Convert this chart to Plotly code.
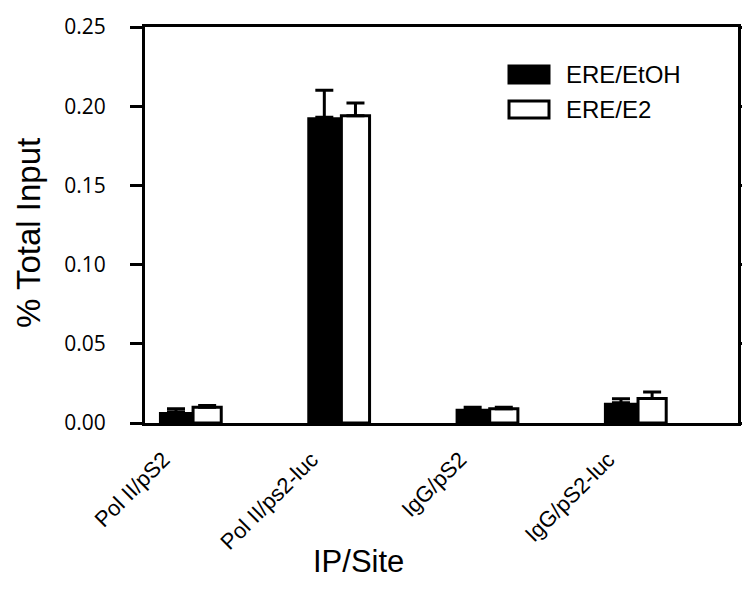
import plotly.graph_objects as go

categories = ["Pol II/pS2", "Pol II/ps2-luc", "IgG/pS2", "IgG/pS2-luc"]
series_names = ["ERE/EtOH", "ERE/E2"]
etoh_values = [0.007, 0.193, 0.009, 0.0128]
etoh_errors = [0.002, 0.017, 0.001, 0.0025]
e2_values = [0.010, 0.194, 0.009, 0.0155]
e2_errors = [0.001, 0.008, 0.001, 0.004]
y_ticks = [0.0, 0.05, 0.10, 0.15, 0.20, 0.25]
y_ticklabels = ["0.00", "0.05", "0.10", "0.15", "0.20", "0.25"]
x_title = "IP/Site"
y_title = "% Total Input"

xpos = list(range(len(categories)))

fig = go.Figure()
fig.add_trace(go.Bar(
    x=xpos, y=etoh_values, name=series_names[0],
    offset=-0.23, width=0.23,
    marker=dict(color="black", line=dict(color="black", width=0)),
    error_y=dict(type="data", symmetric=False, array=etoh_errors,
                 arrayminus=[0] * len(etoh_errors), color="black",
                 thickness=3, width=9),
    showlegend=False,
))
fig.add_trace(go.Bar(
    x=xpos, y=e2_values, name=series_names[1],
    offset=0.0, width=0.19,
    marker=dict(color="white", line=dict(color="black", width=3)),
    error_y=dict(type="data", symmetric=False, array=e2_errors,
                 arrayminus=[0] * len(e2_errors), color="black",
                 thickness=3, width=9),
    showlegend=False,
))

# plot-area pixel frame
L, R, T, B = 137, 730, 19, 415
W, H = R - L, B - T
def px(x):
    return (x - L) / W
def py(y):
    return (B - y) / H

# legend drawn as boxes + text
legend_items = [(series_names[0], "black", 58, 75), (series_names[1], "white", 93, 110)]
for name, fill, y0, y1 in legend_items:
    fig.add_shape(type="rect", xref="paper", yref="paper",
                  x0=px(501), x1=px(541), y0=py(y1), y1=py(y0),
                  fillcolor=fill, line=dict(color="black", width=3))
    fig.add_annotation(xref="paper", yref="paper", x=px(556), y=py((y0 + y1) / 2),
                       text=name, showarrow=False, xanchor="left", yanchor="middle",
                       font=dict(family="Liberation Sans, Arial", size=24, color="black"))

fig.add_annotation(xref="paper", yref="paper", x=px(350), y=py(553),
                   text=x_title, showarrow=False, xanchor="center", yanchor="middle",
                   font=dict(family="Liberation Sans, Arial", size=31, color="black"))
fig.add_annotation(xref="paper", yref="paper", x=px(20), y=py(225),
                   text=y_title, showarrow=False, xanchor="center", yanchor="middle",
                   textangle=-90,
                   font=dict(family="Liberation Sans, Arial", size=33, color="black"))

fig.update_layout(
    width=750, height=590,
    margin=dict(l=L, r=750 - R, t=T, b=590 - B),
    paper_bgcolor="white", plot_bgcolor="white",
    barmode="overlay",
    font=dict(family="Liberation Sans, Arial", color="black"),
)
fig.update_xaxes(
    range=[-0.324, 3.674], automargin=False,
    tickmode="array", tickvals=[i - 0.2 for i in xpos], ticktext=categories,
    tickangle=-45, ticks="", showgrid=False, zeroline=False,
    showline=True, linecolor="black", linewidth=3, mirror=True,
    ticklabelstandoff=12,
    tickfont=dict(family="Liberation Sans, Arial", size=22, color="black"),
)
fig.update_yaxes(
    range=[0, 0.25], automargin=False,
    tickmode="array", tickvals=y_ticks, ticktext=y_ticklabels,
    ticks="outside", ticklen=12, tickwidth=3, tickcolor="black",
    showgrid=False, zeroline=False,
    showline=True, linecolor="black", linewidth=3, mirror="ticks",
    tickfont=dict(family="Open Sans", size=21, color="black"),
    ticklabelstandoff=20,
)

fig.write_html("out.html")
